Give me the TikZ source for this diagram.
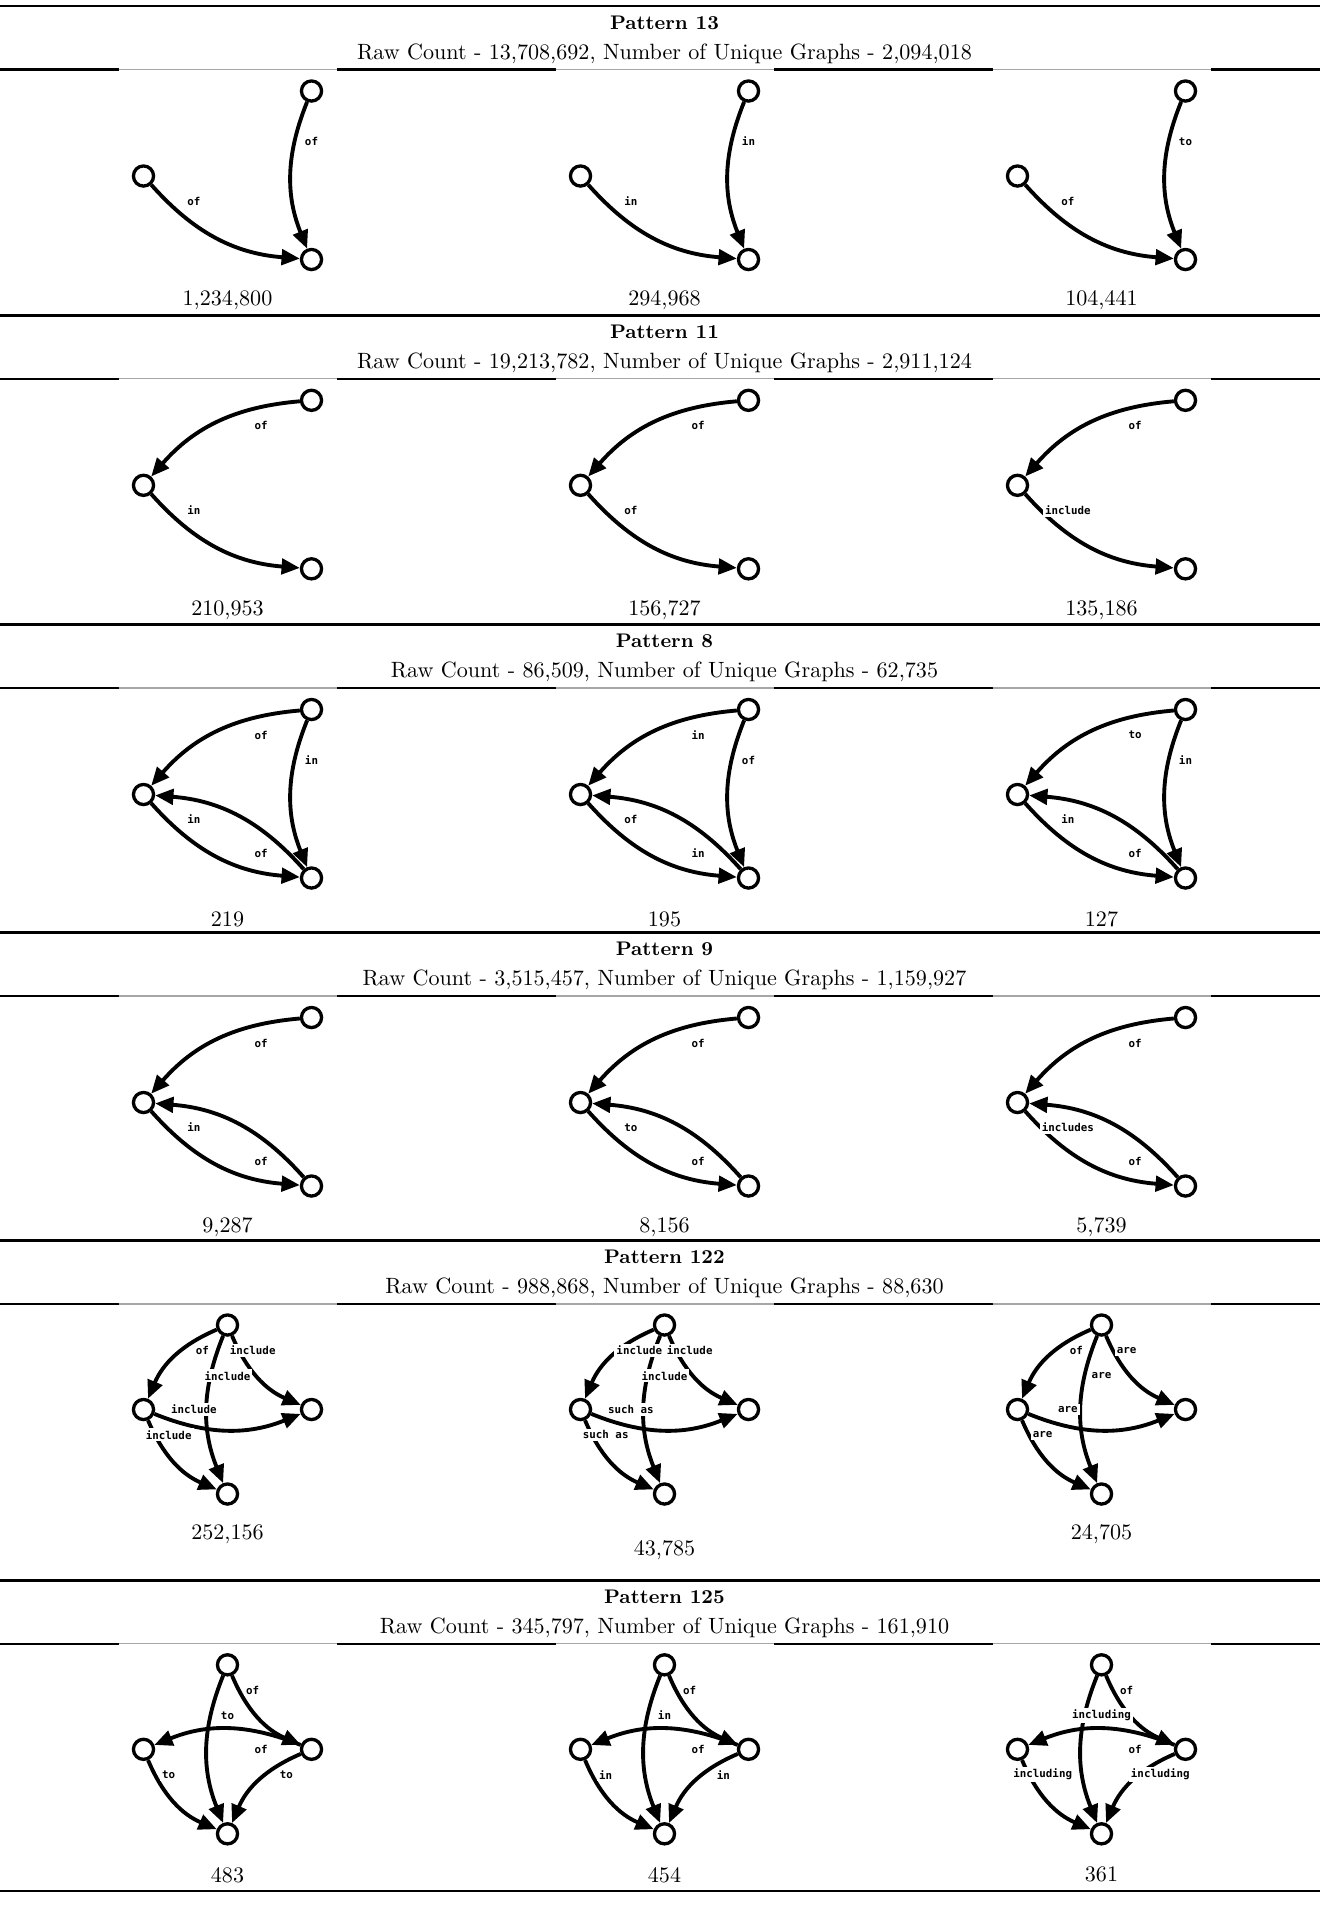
\documentclass[tikz,border=0pt]{standalone}
\usepackage{fontspec}
\newfontfamily\lblfont{DejaVu Sans Mono}
\usepackage{tikz}
\usetikzlibrary{arrows.meta}

% arrows of one graph: first all edges, then all labels on top
\newcommand{\drawarrows}[1]{%
  \foreach \src/\dst/\word in {#1} {\draw[link] (\src) to (\dst);}
  \foreach \src/\dst/\word in {#1} {\path (\src.center) -- (\dst.center) node[lbl, pos=0.3] {\word};}}

% three nodes: a top right, b left, c bottom right
\newcommand{\threegraph}[1]{%
  \node[vertex] (a) at (84,-21.5) {};
  \node[vertex] (b) at (-84,-106.5) {};
  \node[vertex] (c) at (84,-190) {};
  \drawarrows{#1}}

% four nodes: t top, l left, r right, d bottom
\newcommand{\fourgraph}[1]{%
  \node[vertex] (t) at (0,-21) {};
  \node[vertex] (l) at (-84,-105.5) {};
  \node[vertex] (r) at (84,-105.5) {};
  \node[vertex] (d) at (0,-190) {};
  \drawarrows{#1}}

% rule under a header, broken by the image tops
\newcommand{\headrule}[1]{%
  \draw[rulethick] (0,#1) -- (1320,#1);
  \foreach \cx in {227.5,664.5,1101.5} {
    \draw[white, line width=1.3pt] (\cx-109,#1) -- (\cx+109,#1);
    \draw[rulethin] (\cx-109,#1) -- (\cx+109,#1);
  }}

\begin{document}
\begin{tikzpicture}[
    x=0.0159cm, y=0.0159cm,
    >={Triangle[length=0.29cm, width=0.245cm]},
    vertex/.style={circle, draw, fill=white, line width=1.5pt, minimum size=0.32cm, inner sep=0pt},
    link/.style={->, line width=1.75pt, bend right=22},
    lbl/.style={font=\lblfont\bfseries\fontsize{4.9}{5.7}\selectfont, fill=white, inner sep=0.95pt},
    txt/.style={font=\fontsize{10}{12}\selectfont},
    title/.style={font=\bfseries\fontsize{8.9}{11}\selectfont},
    rulethick/.style={line width=1.1pt},
    rulethin/.style={gray!70, line width=0.55pt}
]

\fill[white] (0,0) rectangle (1320,-1917);
\useasboundingbox (0,0) rectangle (1320,-1917);

% Pattern 13
\draw[rulethick] (0,-6) -- (1320,-6);
\node[title] (head13) at (664.5,-22.5) {Pattern 13};
\node[txt] (raw13) at (664.5,-53.5) {Raw Count - 13,708,692, Number of Unique Graphs - 2,094,018};
\headrule{-69.5}
\begin{scope}[shift={(227.5,-69.5)}]
  \threegraph{b/c/of, a/c/of}
  \node[txt] (cnt13a) at (0,-231) {1,234,800};
\end{scope}
\begin{scope}[shift={(664.5,-69.5)}]
  \threegraph{b/c/in, a/c/in}
  \node[txt] (cnt13b) at (0,-231) {294,968};
\end{scope}
\begin{scope}[shift={(1101.5,-69.5)}]
  \threegraph{b/c/of, a/c/to}
  \node[txt] (cnt13c) at (0,-231) {104,441};
\end{scope}

% Pattern 11
\draw[rulethick] (0,-315.3) -- (1320,-315.3);
\node[title] (head11) at (664.5,-331.8) {Pattern 11};
\node[txt] (raw11) at (664.5,-362.8) {Raw Count - 19,213,782, Number of Unique Graphs - 2,911,124};
\headrule{-378.8}
\begin{scope}[shift={(227.5,-378.8)}]
  \threegraph{a/b/of, b/c/in}
  \node[txt] (cnt11a) at (0,-231) {210,953};
\end{scope}
\begin{scope}[shift={(664.5,-378.8)}]
  \threegraph{a/b/of, b/c/of}
  \node[txt] (cnt11b) at (0,-231) {156,727};
\end{scope}
\begin{scope}[shift={(1101.5,-378.8)}]
  \threegraph{a/b/of, b/c/include}
  \node[txt] (cnt11c) at (0,-231) {135,186};
\end{scope}

% Pattern 8
\draw[rulethick] (0,-624.5) -- (1320,-624.5);
\node[title] (head8) at (664.5,-641) {Pattern 8};
\node[txt] (raw8) at (664.5,-672) {Raw Count - 86,509, Number of Unique Graphs - 62,735};
\headrule{-688}
\begin{scope}[shift={(227.5,-688)}]
  \threegraph{a/b/of, a/c/in, b/c/in, c/b/of}
  \node[txt] (cnt8a) at (0,-231) {219};
\end{scope}
\begin{scope}[shift={(664.5,-688)}]
  \threegraph{a/b/in, a/c/of, b/c/of, c/b/in}
  \node[txt] (cnt8b) at (0,-231) {195};
\end{scope}
\begin{scope}[shift={(1101.5,-688)}]
  \threegraph{a/b/to, a/c/in, b/c/in, c/b/of}
  \node[txt] (cnt8c) at (0,-231) {127};
\end{scope}

% Pattern 9
\draw[rulethick] (0,-932.5) -- (1320,-932.5);
\node[title] (head9) at (664.5,-949) {Pattern 9};
\node[txt] (raw9) at (664.5,-980) {Raw Count - 3,515,457, Number of Unique Graphs - 1,159,927};
\headrule{-996}
\begin{scope}[shift={(227.5,-996)}]
  \threegraph{a/b/of, b/c/in, c/b/of}
  \node[txt] (cnt9a) at (0,-231) {9,287};
\end{scope}
\begin{scope}[shift={(664.5,-996)}]
  \threegraph{a/b/of, b/c/to, c/b/of}
  \node[txt] (cnt9b) at (0,-231) {8,156};
\end{scope}
\begin{scope}[shift={(1101.5,-996)}]
  \threegraph{a/b/of, b/c/includes, c/b/of}
  \node[txt] (cnt9c) at (0,-231) {5,739};
\end{scope}

% Pattern 122
\draw[rulethick] (0,-1240.5) -- (1320,-1240.5);
\node[title] (head122) at (664.5,-1257) {Pattern 122};
\node[txt] (raw122) at (664.5,-1288) {Raw Count - 988,868, Number of Unique Graphs - 88,630};
\headrule{-1304}
\begin{scope}[shift={(227.5,-1304)}]
  \fourgraph{t/l/of, t/r/include, t/d/include, l/r/include, l/d/include}
  \node[txt] (cnt122a) at (0,-230) {252,156};
\end{scope}
\begin{scope}[shift={(664.5,-1304)}]
  \fourgraph{t/l/include, t/r/include, t/d/include, l/r/such as, l/d/such as}
  \node[txt] (cnt122b) at (0,-246) {43,785};
\end{scope}
\begin{scope}[shift={(1101.5,-1304)}]
  \fourgraph{t/l/of, t/r/are, t/d/are, l/r/are, l/d/are}
  \node[txt] (cnt122c) at (0,-230) {24,705};
\end{scope}

% Pattern 125
\draw[rulethick] (0,-1580.3) -- (1320,-1580.3);
\node[title] (head125) at (664.5,-1596.8) {Pattern 125};
\node[txt] (raw125) at (664.5,-1627.8) {Raw Count - 345,797, Number of Unique Graphs - 161,910};
\headrule{-1643.8}
\begin{scope}[shift={(227.5,-1643.8)}]
  \fourgraph{t/r/of, t/d/to, r/l/of, l/d/to, r/d/to}
  \node[txt] (cnt125a) at (0,-231) {483};
\end{scope}
\begin{scope}[shift={(664.5,-1643.8)}]
  \fourgraph{t/r/of, t/d/in, r/l/of, l/d/in, r/d/in}
  \node[txt] (cnt125b) at (0,-231) {454};
\end{scope}
\begin{scope}[shift={(1101.5,-1643.8)}]
  \fourgraph{t/r/of, t/d/including, r/l/of, l/d/including, r/d/including}
  \node[txt] (cnt125c) at (0,-231) {361};
\end{scope}
\draw[rulethick] (0,-1890.8) -- (1320,-1890.8);

\end{tikzpicture}
\end{document}
